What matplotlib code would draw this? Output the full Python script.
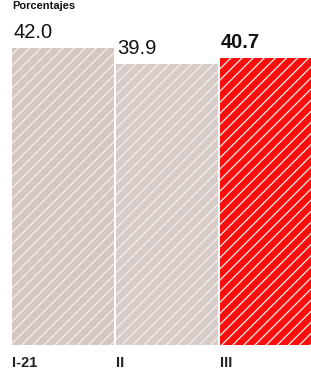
import matplotlib
matplotlib.use("Agg")
import matplotlib.pyplot as plt

categories = ["I-21", "II", "III"]
values = [42.0, 39.9, 40.7]
value_labels = ["42.0", "39.9", "40.7"]
colors = ["#d5c8c3", "#d8ccc8", "#ff0d0d"]
label_weights = ["normal", "normal", "bold"]
title = "Porcentajes"

plt.rcParams["hatch.linewidth"] = 0.9
W, H = 311, 371
fig = plt.figure(figsize=(W / 100, H / 100), dpi=100)
ax = fig.add_axes([0, 26 / H, 1, 1 - 26 / H])

x = list(range(len(categories)))
bars = ax.bar(x, values, width=0.98, color=colors, edgecolor="#f4eeee",
              linewidth=0, hatch="///")
ax.set_xlim(-0.605, 2.385)
ax.set_ylim(3.02, 48.3)
ax.axis("off")

for xi, v, lab, wt in zip(x, values, value_labels, label_weights):
    ax.annotate(lab, (xi - 0.48, v), xytext=(0, 4), textcoords="offset points",
                ha="left", va="bottom", fontsize=14.5, fontweight=wt,
                family="Liberation Sans", color="#111111")

for xi, c in zip(x, categories):
    ax.annotate(c, (xi - 0.49, 3.02), xytext=(0, -8), textcoords="offset points",
                ha="left", va="top", fontsize=10.5, fontweight="bold",
                family="Liberation Sans", color="#222222", annotation_clip=False)

fig.text(12 / W, 1 - 9 / H, title, ha="left", va="baseline", fontsize=8,
         fontweight="bold", family="Liberation Sans", color="#111111")

fig.savefig("out.png", dpi=100)
